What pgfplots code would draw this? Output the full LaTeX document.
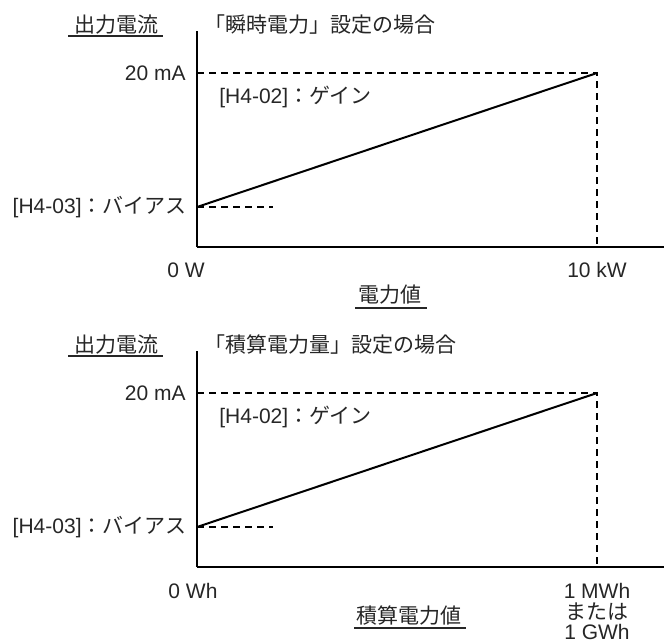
\documentclass[border=0pt]{standalone}
\usepackage{pgfplots}
\pgfplotsset{compat=1.18}
\usepackage{fontspec}
\setmainfont{Liberation Sans}
\newfontfamily\jp{Noto Sans CJK JP}

% one panel of the diagram; 1 px of the reference = 0.5pt
\pgfplotsset{panel/.style={
  scale only axis, width=233.5pt, height=108pt, anchor=south west,
  xmin=0, xmax=11.675, ymin=0, ymax=24.83,
  axis lines=left, axis line style={-, line width=1.25pt, black},
  xtick=\empty, ytick=\empty, clip=false,
}}

\begin{document}
\begin{tikzpicture}[font=\fontsize{10.5}{12}\selectfont,
  txt/.style={text=black!85, inner sep=0pt}]
\useasboundingbox (0,0) rectangle (332pt,-321.5pt);

% top: instantaneous power
\begin{axis}[panel, at={(98.5pt,-123.5pt)}]
  \addplot[black, line width=1pt] coordinates {(0,4.6) (10,20)};
  \addplot[black, line width=0.9pt, dash pattern=on 3.5pt off 2.5pt]
    coordinates {(0,20) (10,20) (10,0)};
  \addplot[black, line width=0.9pt, dash pattern=on 3.5pt off 2.5pt]
    coordinates {(0,4.6) (1.9,4.6)};
\end{axis}

% bottom: accumulated energy
\begin{axis}[panel, at={(98.5pt,-283.5pt)}]
  \addplot[black, line width=1pt] coordinates {(0,4.6) (10,20)};
  \addplot[black, line width=0.9pt, dash pattern=on 3.5pt off 2.5pt]
    coordinates {(0,20) (10,20) (10,0)};
  \addplot[black, line width=0.9pt, dash pattern=on 3.5pt off 2.5pt]
    coordinates {(0,4.6) (1.9,4.6)};
\end{axis}

\begin{scope}[x=0.5pt, y=-0.5pt]
\node[txt] at (116,25) {\jp 出力電流};
\draw[line width=1pt, black!85] (68,36) -- (163,36);
\node[txt, anchor=west] at (204,25) {\jp 「瞬時電力」設定の場合};
\node[txt, anchor=east] at (186,73) {20 mA};
\node[txt, anchor=west] at (219,97) {[H4-02]{\jp ：ゲイン}};
\node[txt, anchor=east] at (187,207) {[H4-03]{\jp ：バイアス}};
\node[txt] at (186,270) {0 W};
\node[txt] at (597,270) {10 kW};
\node[txt] at (390,295) {\jp 電力値};
\draw[line width=1pt, black!85] (355,308) -- (427,308);

\node[txt] at (116,345) {\jp 出力電流};
\draw[line width=1pt, black!85] (68,356) -- (163,356);
\node[txt, anchor=west] at (204,345) {\jp 「積算電力量」設定の場合};
\node[txt, anchor=east] at (186,393) {20 mA};
\node[txt, anchor=west] at (219,417) {[H4-02]{\jp ：ゲイン}};
\node[txt, anchor=east] at (187,527) {[H4-03]{\jp ：バイアス}};
\node[txt] at (193,591) {0 Wh};
\node[txt] at (597,591) {1 MWh};
\node[txt] at (597,612) {\jp または};
\node[txt] at (597,632) {1 GWh};
\node[txt] at (409,615) {\jp 積算電力値};
\draw[line width=1pt, black!85] (354,628) -- (466,628);
\end{scope}
\end{tikzpicture}
\end{document}
